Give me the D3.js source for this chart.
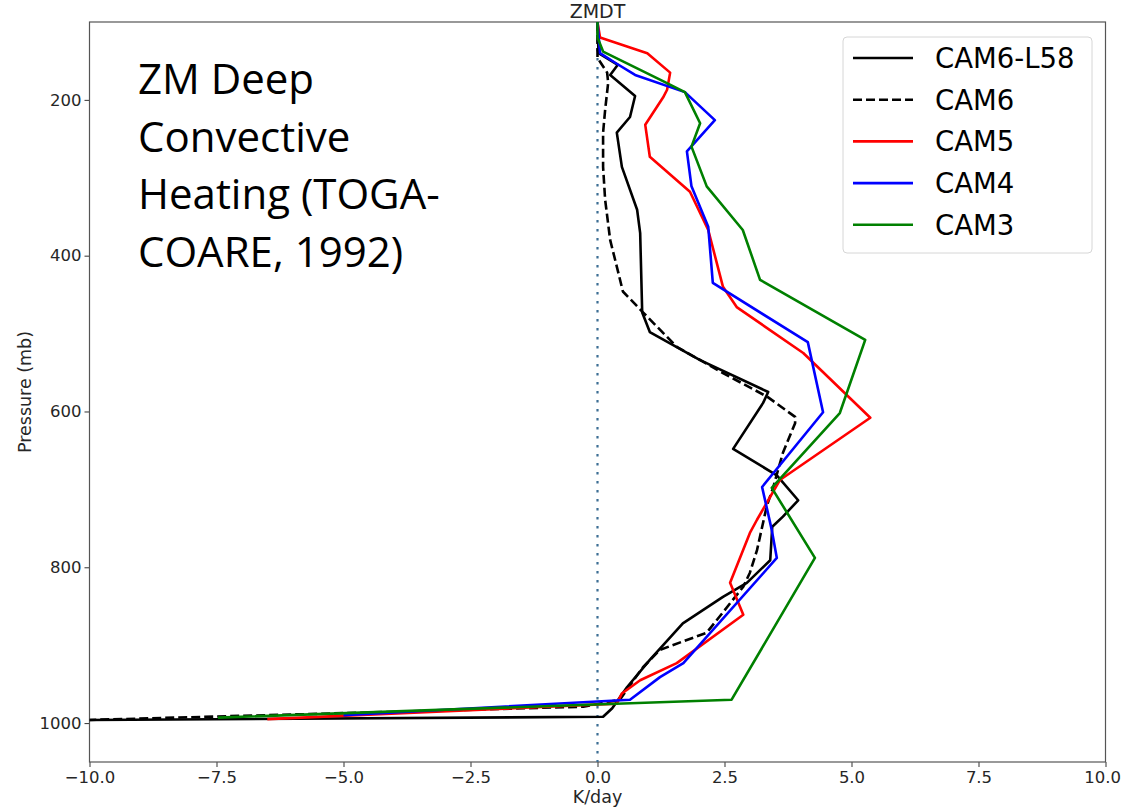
<!DOCTYPE html>
<html><head><meta charset="utf-8">
<script src="https://cdn.jsdelivr.net/npm/d3@7"></script>
<style>body{margin:0;background:#fff} svg{display:block}</style>
</head><body>
<svg id="c" width="1122" height="808"></svg>
<script>
// ---- data ----
const seriesNames  = ["CAM6-L58", "CAM6", "CAM5", "CAM4", "CAM3"];
const seriesColors = ["#000000", "#000000", "#ff0000", "#0000ff", "#008000"];
const seriesDash   = [null, "9,4", null, null, null];

const cam6L58P = [100, 140, 155, 168, 195, 222, 242, 286, 341, 371, 473, 498, 534, 575, 589, 648, 682, 714, 735, 748, 791, 820, 838, 872, 919, 954, 981, 992, 996];
const cam6L58K = [0, 0.02, 0.40, 0.25, 0.74, 0.64, 0.38, 0.48, 0.78, 0.84, 0.88, 1.03, 2.02, 3.36, 3.26, 2.67, 3.53, 3.95, 3.65, 3.44, 3.40, 2.94, 2.47, 1.68, 1.03, 0.58, 0.29, 0.11, -10];

const cam6P = [100, 146, 165, 178, 213, 242, 286, 328, 380, 414, 446, 473, 517, 551, 581, 607, 615, 653, 697, 722, 778, 807, 825, 884, 906, 928, 957, 970, 979, 996];
const cam6K = [0, 0, 0.19, 0.21, 0.15, 0.11, 0.11, 0.15, 0.25, 0.38, 0.50, 0.90, 1.56, 2.48, 3.34, 3.89, 3.89, 3.65, 3.46, 3.33, 3.14, 3.00, 2.87, 2.15, 1.23, 0.90, 0.58, 0.44, -0.28, -10];

const cam5P = [100, 120, 140, 165, 187, 197, 232, 273, 318, 367, 440, 466, 525, 608, 688, 739, 756, 820, 861, 923, 945, 962, 975, 995];
const cam5K = [0, 0.05, 0.98, 1.43, 1.37, 1.29, 0.94, 1.03, 1.82, 2.18, 2.47, 2.74, 4.05, 5.37, 3.59, 3.14, 3.00, 2.61, 2.87, 1.56, 0.84, 0.48, 0.38, -6.5];

const cam4P = [100, 140, 152, 168, 190, 226, 266, 311, 363, 435, 511, 601, 697, 752, 788, 923, 941, 970, 990];
const cam4K = [0, 0.05, 0.34, 0.74, 1.72, 2.31, 1.76, 1.85, 2.18, 2.27, 4.14, 4.44, 3.24, 3.43, 3.53, 1.69, 1.23, 0.64, -5.0];

const cam3P = [100, 120, 138, 174, 190, 230, 260, 311, 367, 431, 508, 602, 698, 788, 970, 993];
const cam3K = [0, 0, 0.11, 1.23, 1.72, 2.02, 1.85, 2.15, 2.86, 3.20, 5.27, 4.77, 3.43, 4.28, 2.64, -7.47];

const seriesP = [cam6L58P, cam6P, cam5P, cam4P, cam3P];
const seriesK = [cam6L58K, cam6K, cam5K, cam4K, cam3K];

const xTicks = [-10, -7.5, -5, -2.5, 0, 2.5, 5, 7.5, 10];
const yTicks = [200, 400, 600, 800, 1000];
const titleText = "ZMDT";
const xLabel = "K/day";
const yLabel = "Pressure (mb)";
const annotationLines = ["ZM Deep", "Convective", "Heating (TOGA-", "COARE, 1992)"];

// ---- layout ----
const L = 89.5, R = 1105.5, T = 22, B = 762;
const W = 1122;
const svg = d3.select("#c");
const x = d3.scaleLinear().domain([-10, 10]).range([L, R]);
const y = d3.scaleLinear().domain([100, 1050]).range([T, B]);

svg.append("defs").append("clipPath").attr("id", "clip")
  .append("rect").attr("x", L).attr("y", T).attr("width", R - L).attr("height", B - T);

const tickFont = "DejaVu Sans, sans-serif";

// axes
const xAxis = svg.append("g").attr("transform", `translate(0,${B})`)
  .call(d3.axisBottom(x).tickValues(xTicks).tickFormat(d3.format(".1f")).tickSizeOuter(0).tickSize(5).tickPadding(4));
const yAxis = svg.append("g").attr("transform", `translate(${L},0)`)
  .call(d3.axisLeft(y).tickValues(yTicks).tickFormat(d3.format("d")).tickSizeOuter(0).tickSize(5).tickPadding(3));
[xAxis, yAxis].forEach(g => {
  g.select(".domain").remove();
  g.selectAll(".tick line").attr("stroke", "#444").attr("stroke-width", 1.1);
  g.selectAll(".tick text").attr("fill", "#262626").style("font-family", tickFont).style("font-size", "16.5px");
});
// keep the last x tick label inside the page
xAxis.selectAll(".tick text").each(function () {
  const bb = this.getBBox();
  const tx = +this.parentNode.getAttribute("transform").match(/translate\(([-\d.]+)/)[1];
  const over = tx + bb.x + bb.width - (W - 1);
  if (over > 0) d3.select(this).attr("x", -over);
});

// spines
svg.append("rect").attr("x", L).attr("y", T).attr("width", R - L).attr("height", B - T)
  .attr("fill", "none").attr("stroke", "#555").attr("stroke-width", 1.2);

// zero line
svg.append("line").attr("x1", x(0)).attr("x2", x(0)).attr("y1", T).attr("y2", B)
  .attr("stroke", "#3d6e94").attr("stroke-width", 2.2).attr("stroke-dasharray", "2.5,6.5");

// series
const line = d3.line().x(d => x(d[0])).y(d => y(d[1]));
const plot = svg.append("g").attr("clip-path", "url(#clip)");
seriesNames.forEach((name, i) => {
  const pts = seriesK[i].map((k, j) => [k, seriesP[i][j]]);
  plot.append("path").datum(pts).attr("d", line)
    .attr("fill", "none").attr("stroke", seriesColors[i]).attr("stroke-width", 2.6)
    .attr("stroke-linejoin", "round")
    .attr("stroke-dasharray", seriesDash[i]);
});

// title (near top edge, as in the reference)
svg.append("text").attr("x", (L + R) / 2).attr("y", 18).attr("text-anchor", "middle")
  .style("font-family", tickFont).style("font-size", "19px").attr("fill", "#262626").text(titleText);

// axis labels
svg.append("text").attr("x", x(0)).attr("y", 803).attr("text-anchor", "middle")
  .style("font-family", tickFont).style("font-size", "17.5px").attr("fill", "#262626").text(xLabel);
svg.append("text").attr("transform", `translate(31,${(T + B) / 2}) rotate(-90)`).attr("text-anchor", "middle")
  .style("font-family", tickFont).style("font-size", "17.5px").attr("fill", "#262626").text(yLabel);

// annotation
const ann = svg.append("text").style("font-family", "Open Sans, sans-serif").style("font-size", "42px").attr("fill", "#000");
annotationLines.forEach((t, i) => {
  ann.append("tspan").attr("x", 138).attr("y", 94 + i * 57.5).text(t);
});

// legend
const lg = svg.append("g");
lg.append("rect").attr("x", 843).attr("y", 37).attr("width", 249).attr("height", 216).attr("rx", 4)
  .attr("fill", "#fff").attr("fill-opacity", 0.8).attr("stroke", "#d6d6d6").attr("stroke-width", 1);
seriesNames.forEach((name, i) => {
  const cy = 58 + i * 41.7;
  lg.append("line").attr("x1", 853).attr("x2", 913).attr("y1", cy).attr("y2", cy)
    .attr("stroke", seriesColors[i]).attr("stroke-width", 2.6).attr("stroke-dasharray", seriesDash[i]);
  lg.append("text").attr("x", 935).attr("y", cy + 10).style("font-family", tickFont).style("font-size", "27.5px")
    .attr("fill", "#000").text(name);
});
</script>
</body></html>
